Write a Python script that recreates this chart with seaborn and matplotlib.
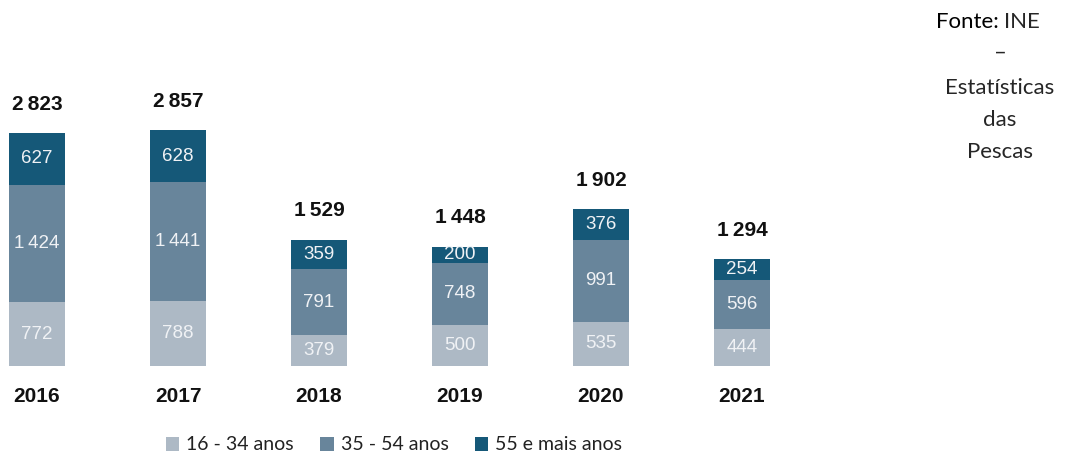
import matplotlib
matplotlib.use("Agg")
import matplotlib.pyplot as plt
from matplotlib.patches import Patch
import pandas as pd
import seaborn as sns

years = ["2016", "2017", "2018", "2019", "2020", "2021"]
age_16_34 = [772, 788, 379, 500, 535, 444]
age_35_54 = [1424, 1441, 791, 748, 991, 596]
age_55_plus = [627, 628, 359, 200, 376, 254]
totals = [2823, 2857, 1529, 1448, 1902, 1294]
series_names = ["16 - 34 anos", "35 - 54 anos", "55 e mais anos"]
colors = ["#adb9c5", "#68859b", "#155878"]

sns.set_theme(style="white")
plt.rcParams["font.family"] = ["Liberation Sans", "DejaVu Sans"]


def fmt(v):
    return f"{v:,}".replace(",", "\u2009")


W, H = 1068, 455
fig = plt.figure(figsize=(W / 100, H / 100), dpi=100)
ax = fig.add_axes([0, 0, 1, 1])

df = pd.DataFrame({"year": years, "a": age_16_34, "b": age_35_54, "c": age_55_plus})
layers = [df["a"], df["b"], df["c"]]
bottom = pd.Series([0] * len(years))
for vals, col in zip(layers, colors):
    sns.barplot(x=df["year"], y=vals, bottom=bottom.values, color=col,
                width=0.4, saturation=1, ax=ax, order=years, errorbar=None,
                linewidth=0, edgecolor="none")
    for i, (v, b) in enumerate(zip(vals, bottom)):
        ax.text(i, b + v / 2, fmt(v), ha="center", va="center",
                color="#f0f2f5", fontsize=13.5)
    bottom = bottom + vals

for i, t in enumerate(totals):
    ax.text(i, t + 350, fmt(t), ha="center", va="center",
            fontsize=15, fontweight="bold", color="#111111")
    ax.text(i, -370, years[i], ha="center", va="center",
            fontsize=15, fontweight="bold", color="#111111")

# data-to-pixel mapping: bar 0 centred at x=37px, 141px between bars; base at y=366px
px_per_cat = 141.0
px_per_unit = 0.0825
ax.set_xlim(-37 / px_per_cat, (W - 37) / px_per_cat)
ax.set_ylim(-(H - 366) / px_per_unit, 366 / px_per_unit)
ax.axis("off")

handles = [Patch(facecolor=c, edgecolor="none") for c in colors]
leg = fig.legend(handles, series_names, loc="center", bbox_to_anchor=(394 / W, 1 - 445 / H),
                 ncol=3, frameon=False, handlelength=0.7, handleheight=0.7,
                 handletextpad=0.35, columnspacing=1.35,
                 prop={"family": "Lato", "size": 14})
for t in leg.get_texts():
    t.set_color("#222222")

src_font = "Lato"
fig.text(999 / W, 1 - 22 / H, "Fonte:", ha="right", va="center", fontsize=16,
         family=src_font, color="#000000")
fig.text(1004 / W, 1 - 22 / H, "INE", ha="left", va="center", fontsize=16,
         family=src_font, color="#262626")
for txt, y in [("–", 53), ("Estatísticas", 88), ("das", 120), ("Pescas", 152)]:
    fig.text(1000 / W, 1 - y / H, txt, ha="center", va="center", fontsize=16,
             family=src_font, color="#262626")

fig.savefig("out.png", dpi=100)
